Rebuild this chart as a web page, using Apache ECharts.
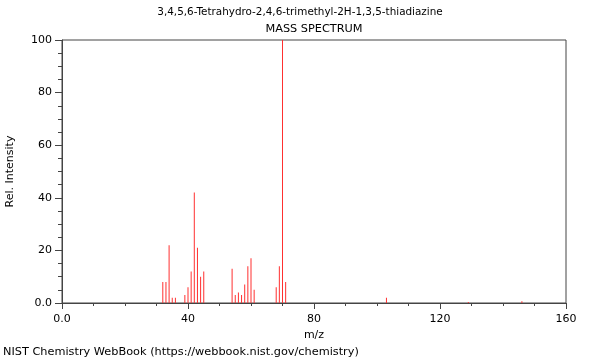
<!DOCTYPE html>
<html><head><meta charset="utf-8">
<script src="https://cdn.jsdelivr.net/npm/echarts@6/dist/echarts.min.js"></script>
<style>html,body{margin:0;padding:0;background:#fff}#c{width:600px;height:360px}</style>
</head><body><div id="c"></div>
<script>
const titleLines = ["3,4,5,6-Tetrahydro-2,4,6-trimethyl-2H-1,3,5-thiadiazine", "MASS SPECTRUM"];
const mz = [32, 33, 34, 35, 36, 39, 40, 41, 42, 43, 44, 45, 54, 55, 56, 57, 58, 59, 60, 61, 68, 69, 70, 71, 103, 129, 146];
const intensity = [8, 8, 22, 2, 2, 3, 6, 12, 42, 21, 10, 12, 13, 3, 4, 3, 7, 14, 17, 5, 6, 14, 100, 8, 2, 0.4, 0.7];
const xTicks = [0, 40, 80, 120, 160];
const yTicks = [0, 20, 40, 60, 80, 100];
const xName = "m/z", yName = "Rel. Intensity";
const footer = "NIST Chemistry WebBook (https://webbook.nist.gov/chemistry)";

const font = "DejaVu Sans";
const fmt = v => v === 0 ? "0.0" : String(v);
const chart = echarts.init(document.getElementById('c'), null, {renderer: 'canvas'});
chart.setOption({
  animation: false,
  textStyle: {fontFamily: font},
  title: [
    {text: titleLines[0], left: 300, top: 7, padding: 0, textAlign: 'center', textStyle: {fontFamily: font, fontSize: 10.4, fontWeight: 'normal', color: '#000'}},
    {text: titleLines[1], left: 314, top: 24, padding: 0, textAlign: 'center', textStyle: {fontFamily: font, fontSize: 11.3, fontWeight: 'normal', color: '#000'}},
    {text: footer, left: 3, top: 347, padding: 0, textStyle: {fontFamily: font, fontSize: 11.3, fontWeight: 'normal', color: '#000'}}
  ],
  grid: {left: 62, right: 34, top: 40, bottom: 57, show: true, borderColor: '#444', borderWidth: 1, containLabel: false, outerBoundsMode: 'none'},
  xAxis: {
    type: 'value', min: xTicks[0], max: xTicks[xTicks.length - 1], interval: 40,
    name: xName, nameLocation: 'middle', nameGap: 26,
    nameTextStyle: {fontFamily: font, fontSize: 11, color: '#000'},
    axisLine: {show: true, lineStyle: {color: '#444'}},
    axisTick: {show: true, length: 6, lineStyle: {color: '#444'}},
    minorTick: {show: true, splitNumber: 4, length: 3, lineStyle: {color: '#444'}},
    axisLabel: {fontFamily: font, fontSize: 11, color: '#000', formatter: fmt, margin: 11},
    splitLine: {show: false}
  },
  yAxis: {
    type: 'value', min: yTicks[0], max: yTicks[yTicks.length - 1], interval: 20,
    name: yName, nameLocation: 'middle', nameGap: 46, nameRotate: 90,
    nameTextStyle: {fontFamily: font, fontSize: 11, color: '#000'},
    axisLine: {show: true, lineStyle: {color: '#444'}},
    axisTick: {show: true, length: 7, lineStyle: {color: '#444'}},
    minorTick: {show: true, splitNumber: 4, length: 4, lineStyle: {color: '#444'}},
    axisLabel: {fontFamily: font, fontSize: 11, color: '#000', formatter: fmt, margin: 10},
    splitLine: {show: false}
  },
  series: [{
    type: 'bar', barWidth: 1, barGap: '-100%',
    itemStyle: {color: '#ff3030'},
    data: mz.map((m, i) => [m, intensity[i]])
  }]
});
</script></body></html>
